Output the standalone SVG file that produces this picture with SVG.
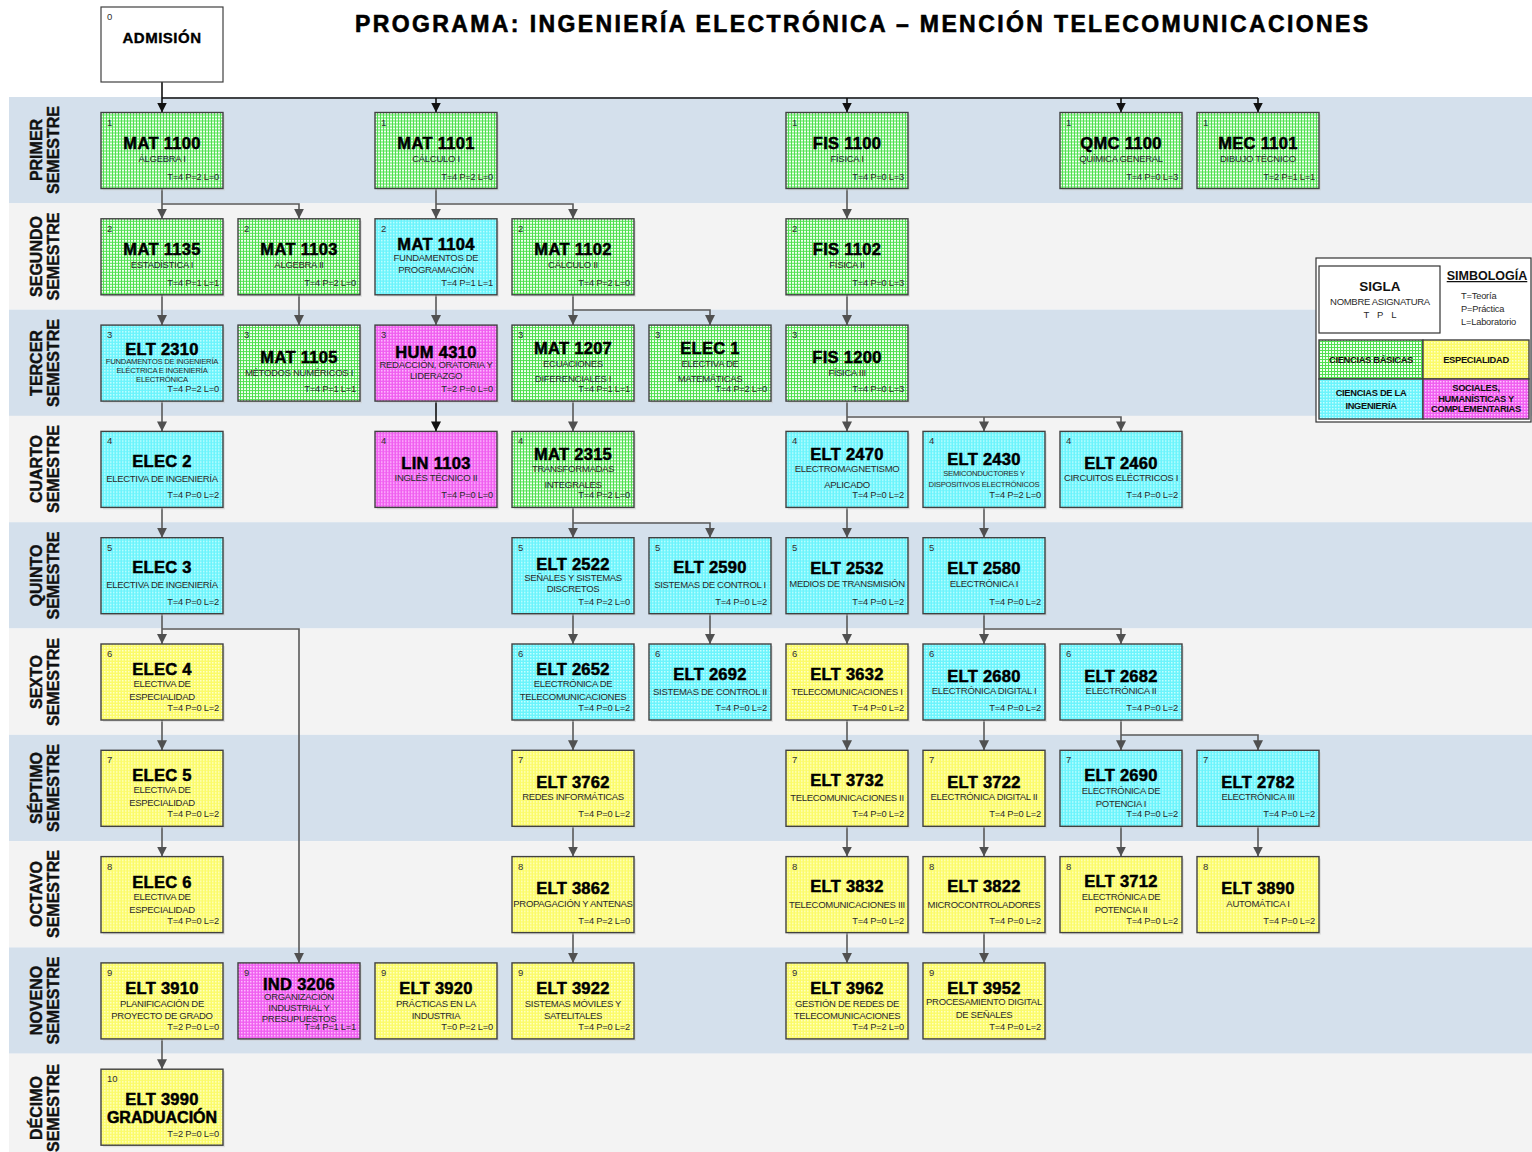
<svg xmlns="http://www.w3.org/2000/svg" width="1532" height="1152" viewBox="0 0 1532 1152">
<style>
text{font-family:"Liberation Sans",Arial,sans-serif}
.band1{fill:#d4e0ec}.band2{fill:#f3f3f3}
.sem{font-size:16px;font-weight:bold;text-anchor:middle;fill:#111;stroke:#111;stroke-width:0.4}
.b{stroke:#404040;stroke-width:1.4}
.sh{fill:#c8c8c8;opacity:0.45}
.g{fill:url(#pg)}.c{fill:url(#pc)}.y{fill:url(#py)}.m{fill:url(#pm)}
.n{font-size:9.5px;fill:#303030}
.t{font-size:16.5px;font-weight:bold;text-anchor:middle;fill:#000;stroke:#000;stroke-width:0.5;letter-spacing:0.3px}
.s{font-size:9.5px;text-anchor:middle;fill:#2a2a2a;letter-spacing:-0.3px}
.ss{font-size:7.7px;text-anchor:middle;fill:#2a2a2a;letter-spacing:-0.25px}
.p{font-size:9.3px;text-anchor:end;fill:#2a2a2a;letter-spacing:-0.2px}
.cn{fill:none;stroke:#595959;stroke-width:1.6}
.ck{fill:none;stroke:#111;stroke-width:1.6}
.lg{font-size:9.3px;font-weight:bold;text-anchor:middle;fill:#111;letter-spacing:-0.3px}
</style>
<defs>
<pattern id="pg" width="3" height="3" patternUnits="userSpaceOnUse"><rect width="3" height="3" fill="#50e050"/><rect width="2" height="2" fill="#f0fff0"/></pattern>
<pattern id="pc" width="3" height="3" patternUnits="userSpaceOnUse"><rect width="3" height="3" fill="#6cf4fc"/><rect width="1.5" height="1.5" fill="#c4ffff"/></pattern>
<pattern id="py" width="3" height="3" patternUnits="userSpaceOnUse"><rect width="3" height="3" fill="#fbfb6a"/><rect width="1.5" height="1.5" fill="#ffffc8"/></pattern>
<pattern id="pm" width="3" height="3" patternUnits="userSpaceOnUse"><rect width="3" height="3" fill="#f060f0"/><rect width="1.5" height="1.5" fill="#ffc0ff"/></pattern>
<marker id="ag" markerUnits="userSpaceOnUse" markerWidth="10" markerHeight="10" viewBox="0 0 10 10" refX="10" refY="5" orient="auto"><path d="M0,0 L10,5 L0,10 z" fill="#505050"/></marker>
<marker id="ak" markerUnits="userSpaceOnUse" markerWidth="10" markerHeight="10" viewBox="0 0 10 10" refX="10" refY="5" orient="auto"><path d="M0,0 L10,5 L0,10 z" fill="#111"/></marker>
</defs>
<rect width="1532" height="1152" fill="#fff"/>
<g id="bands">
<rect class="band1" x="9" y="97" width="1523" height="106.3"/>
<rect class="band2" x="9" y="203.3" width="1523" height="106.3"/>
<rect class="band1" x="9" y="309.6" width="1523" height="106.3"/>
<rect class="band2" x="9" y="415.9" width="1523" height="106.3"/>
<rect class="band1" x="9" y="522.2" width="1523" height="106.3"/>
<rect class="band2" x="9" y="628.5" width="1523" height="106.3"/>
<rect class="band1" x="9" y="734.8" width="1523" height="106.3"/>
<rect class="band2" x="9" y="841.1" width="1523" height="106.3"/>
<rect class="band1" x="9" y="947.4" width="1523" height="106.3"/>
<rect class="band2" x="9" y="1053.7" width="1523" height="100"/>
</g>
<g id="semester-labels">
<text class="sem" transform="translate(42,150) rotate(-90)">PRIMER</text><text class="sem" transform="translate(59,150) rotate(-90)">SEMESTRE</text>
<text class="sem" transform="translate(42,256.5) rotate(-90)">SEGUNDO</text><text class="sem" transform="translate(59,256.5) rotate(-90)">SEMESTRE</text>
<text class="sem" transform="translate(42,363) rotate(-90)">TERCER</text><text class="sem" transform="translate(59,363) rotate(-90)">SEMESTRE</text>
<text class="sem" transform="translate(42,469) rotate(-90)">CUARTO</text><text class="sem" transform="translate(59,469) rotate(-90)">SEMESTRE</text>
<text class="sem" transform="translate(42,575.5) rotate(-90)">QUINTO</text><text class="sem" transform="translate(59,575.5) rotate(-90)">SEMESTRE</text>
<text class="sem" transform="translate(42,682) rotate(-90)">SEXTO</text><text class="sem" transform="translate(59,682) rotate(-90)">SEMESTRE</text>
<text class="sem" transform="translate(42,788) rotate(-90)">SÉPTIMO</text><text class="sem" transform="translate(59,788) rotate(-90)">SEMESTRE</text>
<text class="sem" transform="translate(42,894) rotate(-90)">OCTAVO</text><text class="sem" transform="translate(59,894) rotate(-90)">SEMESTRE</text>
<text class="sem" transform="translate(42,1000.5) rotate(-90)">NOVENO</text><text class="sem" transform="translate(59,1000.5) rotate(-90)">SEMESTRE</text>
<text class="sem" transform="translate(42,1108) rotate(-90)">DÉCIMO</text><text class="sem" transform="translate(59,1108) rotate(-90)">SEMESTRE</text>
</g>
<text id="title" x="355" y="32" textLength="1013" lengthAdjust="spacing" style="font-size:23px;font-weight:bold;fill:#000;stroke:#000;stroke-width:0.6">PROGRAMA: INGENIERÍA ELECTRÓNICA – MENCIÓN TELECOMUNICACIONES</text>
<g id="connectors">
<path class="ck" d="M162,82 V112.5" marker-end="url(#ak)"/>
<path class="ck" d="M162,98 H1258"/>
<path class="ck" d="M436,98 V112.5" marker-end="url(#ak)"/>
<path class="ck" d="M847,98 V112.5" marker-end="url(#ak)"/>
<path class="ck" d="M1121,98 V112.5" marker-end="url(#ak)"/>
<path class="ck" d="M1258,98 V112.5" marker-end="url(#ak)"/>
<path class="cn" d="M162,188.5 V218.8" marker-end="url(#ag)"/>
<path class="cn" d="M162,204 H299 V218.8" marker-end="url(#ag)"/>
<path class="cn" d="M436,188.5 V218.8" marker-end="url(#ag)"/>
<path class="cn" d="M436,204 H573 V218.8" marker-end="url(#ag)"/>
<path class="cn" d="M847,188.5 V218.8" marker-end="url(#ag)"/>
<path class="cn" d="M162,294.8 V325.1" marker-end="url(#ag)"/>
<path class="cn" d="M299,294.8 V325.1" marker-end="url(#ag)"/>
<path class="cn" d="M436,294.8 V325.1" marker-end="url(#ag)"/>
<path class="cn" d="M573,294.8 V325.1" marker-end="url(#ag)"/>
<path class="cn" d="M573,310 H710 V325.1" marker-end="url(#ag)"/>
<path class="cn" d="M847,294.8 V325.1" marker-end="url(#ag)"/>
<path class="cn" d="M162,401.1 V431.4" marker-end="url(#ag)"/>
<path class="ck" d="M436,401.1 V431.4" marker-end="url(#ak)"/>
<path class="cn" d="M573,401.1 V431.4" marker-end="url(#ag)"/>
<path class="cn" d="M847,401.1 V431.4" marker-end="url(#ag)"/>
<path class="cn" d="M847,417 H1121 V431.4" marker-end="url(#ag)"/>
<path class="cn" d="M984,417 V431.4" marker-end="url(#ag)"/>
<path class="cn" d="M162,507.4 V537.7" marker-end="url(#ag)"/>
<path class="cn" d="M573,507.4 V537.7" marker-end="url(#ag)"/>
<path class="cn" d="M573,523 H710 V537.7" marker-end="url(#ag)"/>
<path class="cn" d="M847,507.4 V537.7" marker-end="url(#ag)"/>
<path class="cn" d="M984,507.4 V537.7" marker-end="url(#ag)"/>
<path class="cn" d="M162,613.7 V644" marker-end="url(#ag)"/>
<path class="cn" d="M162,629 H299 V962.9" marker-end="url(#ag)"/>
<path class="cn" d="M573,613.7 V644" marker-end="url(#ag)"/>
<path class="cn" d="M710,613.7 V644" marker-end="url(#ag)"/>
<path class="cn" d="M847,613.7 V644" marker-end="url(#ag)"/>
<path class="cn" d="M984,613.7 V644" marker-end="url(#ag)"/>
<path class="cn" d="M984,629 H1121 V644" marker-end="url(#ag)"/>
<path class="cn" d="M162,720 V750.3" marker-end="url(#ag)"/>
<path class="cn" d="M573,720 V750.3" marker-end="url(#ag)"/>
<path class="cn" d="M847,720 V750.3" marker-end="url(#ag)"/>
<path class="cn" d="M984,720 V750.3" marker-end="url(#ag)"/>
<path class="cn" d="M1121,720 V750.3" marker-end="url(#ag)"/>
<path class="cn" d="M1121,735 H1258 V750.3" marker-end="url(#ag)"/>
<path class="cn" d="M162,826.3 V856.6" marker-end="url(#ag)"/>
<path class="cn" d="M573,826.3 V856.6" marker-end="url(#ag)"/>
<path class="cn" d="M847,826.3 V856.6" marker-end="url(#ag)"/>
<path class="cn" d="M984,826.3 V856.6" marker-end="url(#ag)"/>
<path class="cn" d="M1121,826.3 V856.6" marker-end="url(#ag)"/>
<path class="cn" d="M1258,826.3 V856.6" marker-end="url(#ag)"/>
<path class="cn" d="M573,932.6 V962.9" marker-end="url(#ag)"/>
<path class="cn" d="M847,932.6 V962.9" marker-end="url(#ag)"/>
<path class="cn" d="M984,932.6 V962.9" marker-end="url(#ag)"/>
<path class="cn" d="M162,1038.9 V1069.2" marker-end="url(#ag)"/>
</g>
<g id="admision" transform="translate(101,7)"><rect width="122" height="75" fill="#fff" stroke="#404040" stroke-width="1.2"/><text class="n" x="6" y="13">0</text><text x="61" y="35.5" style="font-size:15px;font-weight:bold;text-anchor:middle;stroke:#000;stroke-width:0.35;letter-spacing:0.5px">ADMISIÓN</text></g>
<g id="mat1100" transform="translate(101,112.5)"><rect class="sh" x="2" y="2" width="122" height="76"/><rect class="b g" width="122" height="76"/><text class="n" x="6" y="13">1</text><text class="t" x="61" y="36.5">MAT 1100</text><text class="s" x="61" y="49.5">ÁLGEBRA I</text><text class="p" x="118" y="67">T=4 P=2 L=0</text></g>
<g id="mat1101" transform="translate(375,112.5)"><rect class="sh" x="2" y="2" width="122" height="76"/><rect class="b g" width="122" height="76"/><text class="n" x="6" y="13">1</text><text class="t" x="61" y="36.5">MAT 1101</text><text class="s" x="61" y="49.5">CÁLCULO I</text><text class="p" x="118" y="67">T=4 P=2 L=0</text></g>
<g id="fis1100" transform="translate(786,112.5)"><rect class="sh" x="2" y="2" width="122" height="76"/><rect class="b g" width="122" height="76"/><text class="n" x="6" y="13">1</text><text class="t" x="61" y="36.5">FIS 1100</text><text class="s" x="61" y="49.5">FÍSICA I</text><text class="p" x="118" y="67">T=4 P=0 L=3</text></g>
<g id="qmc1100" transform="translate(1060,112.5)"><rect class="sh" x="2" y="2" width="122" height="76"/><rect class="b g" width="122" height="76"/><text class="n" x="6" y="13">1</text><text class="t" x="61" y="36.5">QMC 1100</text><text class="s" x="61" y="49.5">QUÍMICA GENERAL</text><text class="p" x="118" y="67">T=4 P=0 L=3</text></g>
<g id="mec1101" transform="translate(1197,112.5)"><rect class="sh" x="2" y="2" width="122" height="76"/><rect class="b g" width="122" height="76"/><text class="n" x="6" y="13">1</text><text class="t" x="61" y="36.5">MEC 1101</text><text class="s" x="61" y="49.5">DIBUJO TÉCNICO</text><text class="p" x="118" y="67">T=2 P=1 L=1</text></g>
<g id="mat1135" transform="translate(101,218.8)"><rect class="sh" x="2" y="2" width="122" height="76"/><rect class="b g" width="122" height="76"/><text class="n" x="6" y="13">2</text><text class="t" x="61" y="36.5">MAT 1135</text><text class="s" x="61" y="49.5">ESTADÍSTICA I</text><text class="p" x="118" y="67">T=4 P=1 L=1</text></g>
<g id="mat1103" transform="translate(238,218.8)"><rect class="sh" x="2" y="2" width="122" height="76"/><rect class="b g" width="122" height="76"/><text class="n" x="6" y="13">2</text><text class="t" x="61" y="36.5">MAT 1103</text><text class="s" x="61" y="49.5">ÁLGEBRA II</text><text class="p" x="118" y="67">T=4 P=2 L=0</text></g>
<g id="mat1104" transform="translate(375,218.8)"><rect class="sh" x="2" y="2" width="122" height="76"/><rect class="b c" width="122" height="76"/><text class="n" x="6" y="13">2</text><text class="t" x="61" y="31.5">MAT 1104</text><text class="s" x="61" y="42.5">FUNDAMENTOS DE</text><text class="s" x="61" y="54.5">PROGRAMACIÓN</text><text class="p" x="118" y="67">T=4 P=1 L=1</text></g>
<g id="mat1102" transform="translate(512,218.8)"><rect class="sh" x="2" y="2" width="122" height="76"/><rect class="b g" width="122" height="76"/><text class="n" x="6" y="13">2</text><text class="t" x="61" y="36.5">MAT 1102</text><text class="s" x="61" y="49.5">CÁLCULO II</text><text class="p" x="118" y="67">T=4 P=2 L=0</text></g>
<g id="fis1102" transform="translate(786,218.8)"><rect class="sh" x="2" y="2" width="122" height="76"/><rect class="b g" width="122" height="76"/><text class="n" x="6" y="13">2</text><text class="t" x="61" y="36.5">FIS 1102</text><text class="s" x="61" y="49.5">FÍSICA II</text><text class="p" x="118" y="67">T=4 P=0 L=3</text></g>
<g id="elt2310" transform="translate(101,325.1)"><rect class="sh" x="2" y="2" width="122" height="76"/><rect class="b c" width="122" height="76"/><text class="n" x="6" y="13">3</text><text class="t" x="61" y="29.5">ELT 2310</text><text class="ss" x="61" y="38.7">FUNDAMENTOS DE INGENIERÍA</text><text class="ss" x="61" y="47.7">ELÉCTRICA E INGENIERÍA</text><text class="ss" x="61" y="56.7">ELECTRÓNICA</text><text class="p" x="118" y="67">T=4 P=2 L=0</text></g>
<g id="mat1105" transform="translate(238,325.1)"><rect class="sh" x="2" y="2" width="122" height="76"/><rect class="b g" width="122" height="76"/><text class="n" x="6" y="13">3</text><text class="t" x="61" y="37.5">MAT 1105</text><text class="s" x="61" y="50.5">MÉTODOS NUMÉRICOS I</text><text class="p" x="118" y="67">T=4 P=1 L=1</text></g>
<g id="hum4310" transform="translate(375,325.1)"><rect class="sh" x="2" y="2" width="122" height="76"/><rect class="b m" width="122" height="76"/><text class="n" x="6" y="13">3</text><text class="t" x="61" y="32.5">HUM 4310</text><text class="s" x="61" y="42.5">REDACCIÓN, ORATORIA Y</text><text class="s" x="61" y="53.5">LIDERAZGO</text><text class="p" x="118" y="67">T=2 P=0 L=0</text></g>
<g id="mat1207" transform="translate(512,325.1)"><rect class="sh" x="2" y="2" width="122" height="76"/><rect class="b g" width="122" height="76"/><text class="n" x="6" y="13">3</text><text class="t" x="61" y="28.5">MAT 1207</text><text class="s" x="61" y="41.5">ECUACIONES</text><text class="s" x="61" y="57">DIFERENCIALES I</text><text class="p" x="118" y="67">T=4 P=1 L=1</text></g>
<g id="elec1" transform="translate(649,325.1)"><rect class="sh" x="2" y="2" width="122" height="76"/><rect class="b g" width="122" height="76"/><text class="n" x="6" y="13">3</text><text class="t" x="61" y="28.5">ELEC 1</text><text class="s" x="61" y="41.5">ELECTIVA DE</text><text class="s" x="61" y="57">MATEMÁTICAS</text><text class="p" x="118" y="67">T=4 P=2 L=0</text></g>
<g id="fis1200" transform="translate(786,325.1)"><rect class="sh" x="2" y="2" width="122" height="76"/><rect class="b g" width="122" height="76"/><text class="n" x="6" y="13">3</text><text class="t" x="61" y="37.5">FIS 1200</text><text class="s" x="61" y="50.5">FÍSICA III</text><text class="p" x="118" y="67">T=4 P=0 L=3</text></g>
<g id="elec2" transform="translate(101,431.4)"><rect class="sh" x="2" y="2" width="122" height="76"/><rect class="b c" width="122" height="76"/><text class="n" x="6" y="13">4</text><text class="t" x="61" y="35.5">ELEC 2</text><text class="s" x="61" y="51">ELECTIVA DE INGENIERÍA</text><text class="p" x="118" y="67">T=4 P=0 L=2</text></g>
<g id="lin1103" transform="translate(375,431.4)"><rect class="sh" x="2" y="2" width="122" height="76"/><rect class="b m" width="122" height="76"/><text class="n" x="6" y="13">4</text><text class="t" x="61" y="37.5">LIN 1103</text><text class="s" x="61" y="50">INGLÉS TÉCNICO II</text><text class="p" x="118" y="67">T=4 P=0 L=0</text></g>
<g id="mat2315" transform="translate(512,431.4)"><rect class="sh" x="2" y="2" width="122" height="76"/><rect class="b g" width="122" height="76"/><text class="n" x="6" y="13">4</text><text class="t" x="61" y="28.5">MAT 2315</text><text class="s" x="61" y="41">TRANSFORMADAS</text><text class="s" x="61" y="57">INTEGRALES</text><text class="p" x="118" y="67">T=4 P=2 L=0</text></g>
<g id="elt2470" transform="translate(786,431.4)"><rect class="sh" x="2" y="2" width="122" height="76"/><rect class="b c" width="122" height="76"/><text class="n" x="6" y="13">4</text><text class="t" x="61" y="28.5">ELT 2470</text><text class="s" x="61" y="41">ELECTROMAGNETISMO</text><text class="s" x="61" y="57">APLICADO</text><text class="p" x="118" y="67">T=4 P=0 L=2</text></g>
<g id="elt2430" transform="translate(923,431.4)"><rect class="sh" x="2" y="2" width="122" height="76"/><rect class="b c" width="122" height="76"/><text class="n" x="6" y="13">4</text><text class="t" x="61" y="33.5">ELT 2430</text><text class="ss" x="61" y="44.7">SEMICONDUCTORES Y</text><text class="ss" x="61" y="55.7">DISPOSITIVOS ELECTRÓNICOS</text><text class="p" x="118" y="67">T=4 P=2 L=0</text></g>
<g id="elt2460" transform="translate(1060,431.4)"><rect class="sh" x="2" y="2" width="122" height="76"/><rect class="b c" width="122" height="76"/><text class="n" x="6" y="13">4</text><text class="t" x="61" y="37.5">ELT 2460</text><text class="s" x="61" y="50">CIRCUITOS ELÉCTRICOS I</text><text class="p" x="118" y="67">T=4 P=0 L=2</text></g>
<g id="elec3" transform="translate(101,537.7)"><rect class="sh" x="2" y="2" width="122" height="76"/><rect class="b c" width="122" height="76"/><text class="n" x="6" y="13">5</text><text class="t" x="61" y="35">ELEC 3</text><text class="s" x="61" y="50.5">ELECTIVA DE INGENIERÍA</text><text class="p" x="118" y="67">T=4 P=0 L=2</text></g>
<g id="elt2522" transform="translate(512,537.7)"><rect class="sh" x="2" y="2" width="122" height="76"/><rect class="b c" width="122" height="76"/><text class="n" x="6" y="13">5</text><text class="t" x="61" y="32.5">ELT 2522</text><text class="s" x="61" y="43.5">SEÑALES Y SISTEMAS</text><text class="s" x="61" y="54.5">DISCRETOS</text><text class="p" x="118" y="67">T=4 P=2 L=0</text></g>
<g id="elt2590" transform="translate(649,537.7)"><rect class="sh" x="2" y="2" width="122" height="76"/><rect class="b c" width="122" height="76"/><text class="n" x="6" y="13">5</text><text class="t" x="61" y="35">ELT 2590</text><text class="s" x="61" y="50.5">SISTEMAS DE CONTROL I</text><text class="p" x="118" y="67">T=4 P=0 L=2</text></g>
<g id="elt2532" transform="translate(786,537.7)"><rect class="sh" x="2" y="2" width="122" height="76"/><rect class="b c" width="122" height="76"/><text class="n" x="6" y="13">5</text><text class="t" x="61" y="36.5">ELT 2532</text><text class="s" x="61" y="49.5">MEDIOS DE TRANSMISIÓN</text><text class="p" x="118" y="67">T=4 P=0 L=2</text></g>
<g id="elt2580" transform="translate(923,537.7)"><rect class="sh" x="2" y="2" width="122" height="76"/><rect class="b c" width="122" height="76"/><text class="n" x="6" y="13">5</text><text class="t" x="61" y="36.5">ELT 2580</text><text class="s" x="61" y="49.5">ELECTRÓNICA I</text><text class="p" x="118" y="67">T=4 P=0 L=2</text></g>
<g id="elec4" transform="translate(101,644)"><rect class="sh" x="2" y="2" width="122" height="76"/><rect class="b y" width="122" height="76"/><text class="n" x="6" y="13">6</text><text class="t" x="61" y="31">ELEC 4</text><text class="s" x="61" y="43">ELECTIVA DE</text><text class="s" x="61" y="56">ESPECIALIDAD</text><text class="p" x="118" y="67">T=4 P=0 L=2</text></g>
<g id="elt2652" transform="translate(512,644)"><rect class="sh" x="2" y="2" width="122" height="76"/><rect class="b c" width="122" height="76"/><text class="n" x="6" y="13">6</text><text class="t" x="61" y="31">ELT 2652</text><text class="s" x="61" y="43">ELECTRÓNICA DE</text><text class="s" x="61" y="56">TELECOMUNICACIONES</text><text class="p" x="118" y="67">T=4 P=0 L=2</text></g>
<g id="elt2692" transform="translate(649,644)"><rect class="sh" x="2" y="2" width="122" height="76"/><rect class="b c" width="122" height="76"/><text class="n" x="6" y="13">6</text><text class="t" x="61" y="35.5">ELT 2692</text><text class="s" x="61" y="51">SISTEMAS DE CONTROL II</text><text class="p" x="118" y="67">T=4 P=0 L=2</text></g>
<g id="elt3632" transform="translate(786,644)"><rect class="sh" x="2" y="2" width="122" height="76"/><rect class="b y" width="122" height="76"/><text class="n" x="6" y="13">6</text><text class="t" x="61" y="35.5">ELT 3632</text><text class="s" x="61" y="51">TELECOMUNICACIONES I</text><text class="p" x="118" y="67">T=4 P=0 L=2</text></g>
<g id="elt2680" transform="translate(923,644)"><rect class="sh" x="2" y="2" width="122" height="76"/><rect class="b c" width="122" height="76"/><text class="n" x="6" y="13">6</text><text class="t" x="61" y="37.5">ELT 2680</text><text class="s" x="61" y="50">ELECTRÓNICA DIGITAL I</text><text class="p" x="118" y="67">T=4 P=0 L=2</text></g>
<g id="elt2682" transform="translate(1060,644)"><rect class="sh" x="2" y="2" width="122" height="76"/><rect class="b c" width="122" height="76"/><text class="n" x="6" y="13">6</text><text class="t" x="61" y="37.5">ELT 2682</text><text class="s" x="61" y="50">ELECTRÓNICA II</text><text class="p" x="118" y="67">T=4 P=0 L=2</text></g>
<g id="elec5" transform="translate(101,750.3)"><rect class="sh" x="2" y="2" width="122" height="76"/><rect class="b y" width="122" height="76"/><text class="n" x="6" y="13">7</text><text class="t" x="61" y="31">ELEC 5</text><text class="s" x="61" y="43">ELECTIVA DE</text><text class="s" x="61" y="56">ESPECIALIDAD</text><text class="p" x="118" y="67">T=4 P=0 L=2</text></g>
<g id="elt3762" transform="translate(512,750.3)"><rect class="sh" x="2" y="2" width="122" height="76"/><rect class="b y" width="122" height="76"/><text class="n" x="6" y="13">7</text><text class="t" x="61" y="37.5">ELT 3762</text><text class="s" x="61" y="50">REDES INFORMÁTICAS</text><text class="p" x="118" y="67">T=4 P=0 L=2</text></g>
<g id="elt3732" transform="translate(786,750.3)"><rect class="sh" x="2" y="2" width="122" height="76"/><rect class="b y" width="122" height="76"/><text class="n" x="6" y="13">7</text><text class="t" x="61" y="35.5">ELT 3732</text><text class="s" x="61" y="51">TELECOMUNICACIONES II</text><text class="p" x="118" y="67">T=4 P=0 L=2</text></g>
<g id="elt3722" transform="translate(923,750.3)"><rect class="sh" x="2" y="2" width="122" height="76"/><rect class="b y" width="122" height="76"/><text class="n" x="6" y="13">7</text><text class="t" x="61" y="37.5">ELT 3722</text><text class="s" x="61" y="50">ELECTRÓNICA DIGITAL II</text><text class="p" x="118" y="67">T=4 P=0 L=2</text></g>
<g id="elt2690" transform="translate(1060,750.3)"><rect class="sh" x="2" y="2" width="122" height="76"/><rect class="b c" width="122" height="76"/><text class="n" x="6" y="13">7</text><text class="t" x="61" y="31">ELT 2690</text><text class="s" x="61" y="44">ELECTRÓNICA DE</text><text class="s" x="61" y="57">POTENCIA I</text><text class="p" x="118" y="67">T=4 P=0 L=2</text></g>
<g id="elt2782" transform="translate(1197,750.3)"><rect class="sh" x="2" y="2" width="122" height="76"/><rect class="b c" width="122" height="76"/><text class="n" x="6" y="13">7</text><text class="t" x="61" y="37.5">ELT 2782</text><text class="s" x="61" y="50">ELECTRÓNICA III</text><text class="p" x="118" y="67">T=4 P=0 L=2</text></g>
<g id="elec6" transform="translate(101,856.6)"><rect class="sh" x="2" y="2" width="122" height="76"/><rect class="b y" width="122" height="76"/><text class="n" x="6" y="13">8</text><text class="t" x="61" y="31">ELEC 6</text><text class="s" x="61" y="43">ELECTIVA DE</text><text class="s" x="61" y="56">ESPECIALIDAD</text><text class="p" x="118" y="67">T=4 P=0 L=2</text></g>
<g id="elt3862" transform="translate(512,856.6)"><rect class="sh" x="2" y="2" width="122" height="76"/><rect class="b y" width="122" height="76"/><text class="n" x="6" y="13">8</text><text class="t" x="61" y="37.5">ELT 3862</text><text class="s" x="61" y="50.5">PROPAGACIÓN Y ANTENAS</text><text class="p" x="118" y="67">T=4 P=2 L=0</text></g>
<g id="elt3832" transform="translate(786,856.6)"><rect class="sh" x="2" y="2" width="122" height="76"/><rect class="b y" width="122" height="76"/><text class="n" x="6" y="13">8</text><text class="t" x="61" y="35.5">ELT 3832</text><text class="s" x="61" y="51">TELECOMUNICACIONES III</text><text class="p" x="118" y="67">T=4 P=0 L=2</text></g>
<g id="elt3822" transform="translate(923,856.6)"><rect class="sh" x="2" y="2" width="122" height="76"/><rect class="b y" width="122" height="76"/><text class="n" x="6" y="13">8</text><text class="t" x="61" y="35.5">ELT 3822</text><text class="s" x="61" y="51">MICROCONTROLADORES</text><text class="p" x="118" y="67">T=4 P=0 L=2</text></g>
<g id="elt3712" transform="translate(1060,856.6)"><rect class="sh" x="2" y="2" width="122" height="76"/><rect class="b y" width="122" height="76"/><text class="n" x="6" y="13">8</text><text class="t" x="61" y="30.5">ELT 3712</text><text class="s" x="61" y="43.5">ELECTRÓNICA DE</text><text class="s" x="61" y="56.5">POTENCIA II</text><text class="p" x="118" y="67">T=4 P=0 L=2</text></g>
<g id="elt3890" transform="translate(1197,856.6)"><rect class="sh" x="2" y="2" width="122" height="76"/><rect class="b y" width="122" height="76"/><text class="n" x="6" y="13">8</text><text class="t" x="61" y="37.5">ELT 3890</text><text class="s" x="61" y="50.5">AUTOMÁTICA I</text><text class="p" x="118" y="67">T=4 P=0 L=2</text></g>
<g id="elt3910" transform="translate(101,962.9)"><rect class="sh" x="2" y="2" width="122" height="76"/><rect class="b y" width="122" height="76"/><text class="n" x="6" y="13">9</text><text class="t" x="61" y="31.5">ELT 3910</text><text class="s" x="61" y="44">PLANIFICACIÓN DE</text><text class="s" x="61" y="56">PROYECTO DE GRADO</text><text class="p" x="118" y="67">T=2 P=0 L=0</text></g>
<g id="ind3206" transform="translate(238,962.9)"><rect class="sh" x="2" y="2" width="122" height="76"/><rect class="b m" width="122" height="76"/><text class="n" x="6" y="13">9</text><text class="t" x="61" y="27.5">IND 3206</text><text class="s" x="61" y="37.5">ORGANIZACIÓN</text><text class="s" x="61" y="48">INDUSTRIAL Y</text><text class="s" x="61" y="59">PRESUPUESTOS</text><text class="p" x="118" y="67">T=4 P=1 L=1</text></g>
<g id="elt3920" transform="translate(375,962.9)"><rect class="sh" x="2" y="2" width="122" height="76"/><rect class="b y" width="122" height="76"/><text class="n" x="6" y="13">9</text><text class="t" x="61" y="31.5">ELT 3920</text><text class="s" x="61" y="44">PRÁCTICAS EN LA</text><text class="s" x="61" y="56">INDUSTRIA</text><text class="p" x="118" y="67">T=0 P=2 L=0</text></g>
<g id="elt3922" transform="translate(512,962.9)"><rect class="sh" x="2" y="2" width="122" height="76"/><rect class="b y" width="122" height="76"/><text class="n" x="6" y="13">9</text><text class="t" x="61" y="31.5">ELT 3922</text><text class="s" x="61" y="44">SISTEMAS MÓVILES Y</text><text class="s" x="61" y="56">SATELITALES</text><text class="p" x="118" y="67">T=4 P=0 L=2</text></g>
<g id="elt3962" transform="translate(786,962.9)"><rect class="sh" x="2" y="2" width="122" height="76"/><rect class="b y" width="122" height="76"/><text class="n" x="6" y="13">9</text><text class="t" x="61" y="31.5">ELT 3962</text><text class="s" x="61" y="44">GESTIÓN DE REDES DE</text><text class="s" x="61" y="56">TELECOMUNICACIONES</text><text class="p" x="118" y="67">T=4 P=2 L=0</text></g>
<g id="elt3952" transform="translate(923,962.9)"><rect class="sh" x="2" y="2" width="122" height="76"/><rect class="b y" width="122" height="76"/><text class="n" x="6" y="13">9</text><text class="t" x="61" y="31.5">ELT 3952</text><text class="s" x="61" y="42.5">PROCESAMIENTO DIGITAL</text><text class="s" x="61" y="55">DE SEÑALES</text><text class="p" x="118" y="67">T=4 P=0 L=2</text></g>
<g id="elt3990" transform="translate(101,1069.2)"><rect class="sh" x="2" y="2" width="122" height="76"/><rect class="b y" width="122" height="76"/><text class="n" x="6" y="13">10</text><text class="t" x="61" y="35.5">ELT 3990</text><text class="t" x="61" y="53.5" style="font-size:16px;letter-spacing:0">GRADUACIÓN</text><text class="p" x="118" y="68">T=2 P=0 L=0</text></g>
<g id="legend">
<rect x="1316" y="258" width="215" height="164" fill="#fff" stroke="#333" stroke-width="1.2"/>
<rect x="1319" y="266" width="121" height="67" fill="#fff" stroke="#333" stroke-width="1.2"/>
<text x="1380" y="291" style="font-size:13.5px;font-weight:bold;text-anchor:middle;fill:#111">SIGLA</text>
<text x="1380" y="304.5" style="font-size:9.5px;text-anchor:middle;fill:#2a2a2a;letter-spacing:-0.3px">NOMBRE ASIGNATURA</text>
<text x="1380" y="317.5" style="font-size:9.5px;text-anchor:middle;fill:#2a2a2a" xml:space="preserve">T   P   L</text>
<text x="1487" y="280" style="font-size:12.5px;font-weight:bold;text-anchor:middle;fill:#111;text-decoration:underline">SIMBOLOGÍA</text>
<text x="1461" y="298.5" style="font-size:9.3px;fill:#2a2a2a;letter-spacing:-0.2px">T=Teoría</text>
<text x="1461" y="311.5" style="font-size:9.3px;fill:#2a2a2a;letter-spacing:-0.2px">P=Práctica</text>
<text x="1461" y="324.5" style="font-size:9.3px;fill:#2a2a2a;letter-spacing:-0.2px">L=Laboratorio</text>
<rect class="b g" x="1319" y="340" width="104" height="39"/>
<rect class="b y" x="1423" y="340" width="106" height="39"/>
<rect class="b c" x="1319" y="379" width="104" height="40"/>
<rect class="b m" x="1423" y="379" width="106" height="40"/>
<text class="lg" x="1371" y="363">CIENCIAS BÁSICAS</text>
<text class="lg" x="1476" y="363">ESPECIALIDAD</text>
<text class="lg" x="1371" y="396">CIENCIAS DE LA</text>
<text class="lg" x="1371" y="409">INGENIERÍA</text>
<text class="lg" x="1476" y="391">SOCIALES,</text>
<text class="lg" x="1476" y="401.5">HUMANÍSTICAS Y</text>
<text class="lg" x="1476" y="412">COMPLEMENTARIAS</text>
</g>
</svg>
